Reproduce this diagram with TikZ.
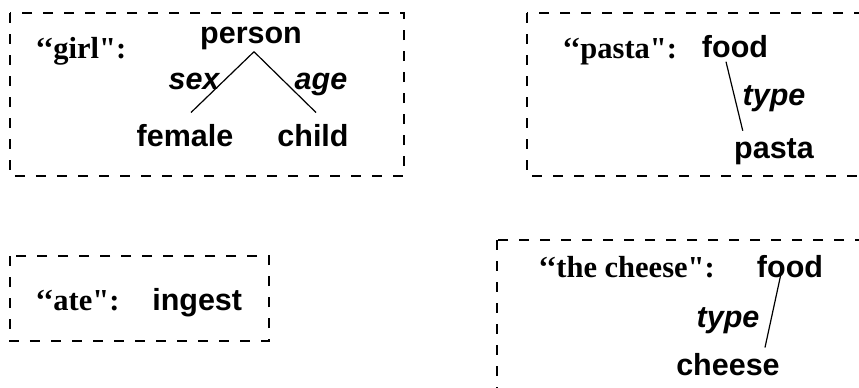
\documentclass[tikz,border=0pt]{standalone}
\usepackage{fontspec}
\setsansfont{Liberation Sans}
\newfontfamily\quotefont{Liberation Serif}[Ligatures=TeXOff]
\usetikzlibrary{positioning}
\tikzset{
    word/.style={
           inner sep=0pt,
           font=\fontsize{15.25}{18}\selectfont\sffamily\bfseries,
           },
    quoted/.style={
           inner sep=0pt,
           font=\fontsize{15.25}{18}\selectfont\quotefont\bfseries,
           },
    role/.style={
           inner sep=0pt,
           font=\fontsize{15.25}{18}\selectfont\sffamily\bfseries\itshape,
           },
    dashbox/.style={
           draw=black, line width=0.65pt,
           dash pattern=on 5pt off 5.5pt,
           },
    link/.style={
           draw=black, line width=0.6pt,
           },
}
\begin{document}
\begin{tikzpicture}[x=0.5pt, y=-0.5pt]
	\clip (0,0) rectangle (859,387);
	
	% "girl"
	\draw[dashbox] (10,13) rectangle (404,176);
	\node[quoted, anchor=base west] (girl) at (35,58) {‘‘girl":};
	\node[word, anchor=base] (person) at (251,43) {person};
	\node[word, anchor=base] (female) at (185,146) {female};
	\node[word, anchor=base] (child) at (313,146) {child};
	\node[role, anchor=base] (sex) at (194,89) {sex};
	\node[role, anchor=base] (age) at (321,89) {age};
	
	\path[link] ([shift={(3,2)}]person.south) edge ([shift={(6,-11)}]female.north)
	            ([shift={(3,2)}]person.south) edge ([shift={(3,-11)}]child.north);
	
	% "pasta"
	\draw[dashbox] (527,13) rectangle (900,176);
	\node[quoted, anchor=base west] (pastaw) at (562,58) {‘‘pasta":};
	\node[word, anchor=base] (food) at (735,57) {food};
	\node[word, anchor=base] (pasta) at (774,158) {pasta};
	\node[role, anchor=base] (type) at (774,105) {type};
	
	\path[link] ([shift={(-9,4)}]food.south) edge ([shift={(9,-7)}]pasta.north west);
	
	% "ate"
	\draw[dashbox] (10,256) rectangle (269,341);
	\node[quoted, anchor=base west] (ate) at (35,310) {‘‘ate":};
	\node[word, base right=16pt of ate] (ingest) {ingest};
	
	% "the cheese"
	\draw[dashbox] (497,240) rectangle (900,420);
	\node[quoted, anchor=base west] (cheesew) at (538,277) {‘‘the cheese":};
	\node[word, anchor=base] (food2) at (790,277) {food};
	\node[word, anchor=base] (cheese) at (728,375) {cheese};
	\node[role, anchor=base] (type2) at (728,327) {type};
	
	\path[link] ([shift={(-9,-4)}]food2.south) edge ([shift={(37,-5)}]cheese.north);
	
\end{tikzpicture}
\end{document}
